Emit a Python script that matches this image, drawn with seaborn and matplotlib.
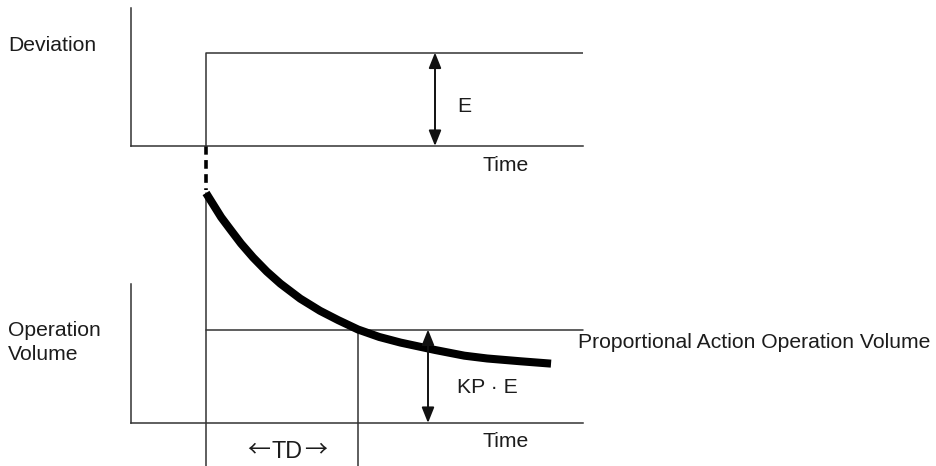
import matplotlib
matplotlib.use("Agg")
import matplotlib.pyplot as plt
import pandas as pd
import seaborn as sns

# ---- values -------------------------------------------------------------
# time is measured in multiples of the derivative time TD (step applied at 0)
step_time = 0.0
derivative_time = 1.0
deviation_e = 1.0          # size of the deviation step E
proportional_kpe = 1.0     # proportional action output KP·E

# operation volume after the step (derivative kick decaying towards KP·E)
response_time = [0.0, 0.05, 0.10, 0.16, 0.23, 0.31, 0.40, 0.49, 0.62, 0.75,
                 0.87, 1.0, 1.14, 1.28, 1.51, 1.70, 1.85, 2.07, 2.27]
response_value = [2.46, 2.33, 2.20, 2.07, 1.92, 1.77, 1.62, 1.49, 1.33, 1.20,
                  1.10, 1.0, 0.92, 0.86, 0.78, 0.72, 0.69, 0.66, 0.635]

axis_labels = ["Deviation", "Operation", "Volume"]
time_label = "Time"
proportional_label = "Proportional Action Operation Volume"

# ---- layout -------------------------------------------------------------
W, H = 937, 466
sns.set_theme(style="white")
plt.rcParams["font.family"] = ["Liberation Sans", "DejaVu Sans"]

fig = plt.figure(figsize=(W / 100, H / 100), dpi=100)

PX_PER_T = 152.0     # pixels per TD
PX_PER_V = 93.5      # pixels per unit of E
T_MIN = (131 - 206) / PX_PER_T
T_MAX = (583 - 206) / PX_PER_T


def axes_box(left, top, right, bottom):
    return [left / W, 1 - bottom / H, (right - left) / W, (bottom - top) / H]


ax_dev = fig.add_axes(axes_box(131, 8, 583, 146))
ax_op = fig.add_axes(axes_box(131, 284, 583, 423))
ax_dev.set_ylim(0, 138 / PX_PER_V)
ax_op.set_ylim(0, 139 / PX_PER_V)

line_col = "#333333"
text_col = "#1c1c1c"
thin = 1.1

for ax in (ax_dev, ax_op):
    ax.set_xlim(T_MIN, T_MAX)
    ax.set_xticks([])
    ax.set_yticks([])
    ax.patch.set_alpha(0)
    sns.despine(ax=ax)
    for side in ("left", "bottom"):
        ax.spines[side].set_color(line_col)
        ax.spines[side].set_linewidth(thin)

below = -(466 - 423) / PX_PER_V   # down to the lower figure edge

# ---- deviation: step of size E -------------------------------------------
step_df = pd.DataFrame({"t": [step_time, step_time, T_MAX],
                        "v": [0.0, deviation_e, deviation_e]})
sns.lineplot(data=step_df, x="t", y="v", sort=False, estimator=None, ax=ax_dev,
             color=line_col, lw=thin)
ax_dev.plot([step_time, step_time], [0, -(190 - 146) / PX_PER_V],
            color="black", lw=2.6, dashes=(2.4, 1.5), clip_on=False)

arrow_kw = dict(arrowstyle="<|-|>,head_length=0.55,head_width=0.22",
                color="#111111", lw=1.4, shrinkA=0, shrinkB=0, mutation_scale=17)
t_arrow_dev = (435 - 206) / PX_PER_T
ax_dev.annotate("", xy=(t_arrow_dev, deviation_e), xytext=(t_arrow_dev, 0),
                arrowprops=arrow_kw)

# ---- operation volume ----------------------------------------------------
ax_op.plot([step_time, step_time], [below, response_value[0]],
           color=line_col, lw=thin, clip_on=False)
ax_op.plot([derivative_time, derivative_time], [below, proportional_kpe],
           color=line_col, lw=thin, clip_on=False)
ax_op.plot([step_time, T_MAX], [proportional_kpe, proportional_kpe],
           color=line_col, lw=thin, clip_on=False)

resp_df = pd.DataFrame({"t": response_time, "v": response_value})
sns.lineplot(data=resp_df, x="t", y="v", estimator=None, ax=ax_op,
             color="black", lw=5.8,
             solid_capstyle="butt", solid_joinstyle="round")
for ln in ax_op.lines:
    ln.set_clip_on(False)

t_arrow_op = (428 - 206) / PX_PER_T
ax_op.annotate("", xy=(t_arrow_op, proportional_kpe), xytext=(t_arrow_op, 0),
               arrowprops=arrow_kw)
for ax in (ax_dev, ax_op):
    ax.set_xlabel("")
    ax.set_ylabel("")

# ---- text ----------------------------------------------------------------
FS = 15.2


def label(x, y, s, ha="left", **kw):
    fig.text(x / W, 1 - y / H, s, fontsize=kw.pop("fontsize", FS),
             color=text_col, va="baseline", ha=ha, **kw)


label(8, 51, axis_labels[0])
label(8, 336, axis_labels[1])
label(8, 360, axis_labels[2])
label(457, 112, "E")
label(483, 171, time_label)
label(483, 447, time_label)
label(457, 393, "KP · E")
label(578, 348, proportional_label)

# TD span label with thin full-width arrows
label(287, 458, "TD", ha="center", fontsize=16.8)
arrow_font = ["Noto Sans CJK JP", "DejaVu Sans"]
label(247, 456, "←", family=arrow_font, fontsize=16.5)
label(327, 456, "→", ha="right", family=arrow_font, fontsize=16.5)

fig.savefig("out.png", dpi=100)
